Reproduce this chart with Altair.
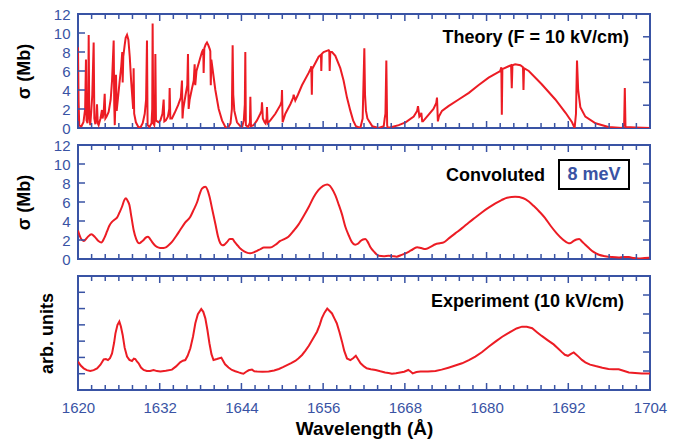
import altair as alt
import pandas as pd

RED = "#ec1c24"
BLUE = "#3953a4"
FONT = "Liberation Sans"

# ---------------- data ----------------
theory_wl = [1620.00, 1620.08, 1620.18, 1620.45, 1620.80, 1621.05, 1621.17, 1621.25, 1621.40, 1621.50,
             1621.57, 1621.65, 1621.80, 1621.95, 1622.10, 1622.30, 1622.40, 1622.55, 1622.70, 1622.79,
             1622.90, 1623.03, 1623.30, 1623.52, 1623.60, 1623.77, 1623.92, 1624.02, 1624.20, 1624.50,
             1624.80, 1625.00, 1625.24, 1625.32, 1625.40, 1625.50, 1625.58, 1625.68, 1625.85, 1626.10,
             1626.35, 1626.50, 1626.56, 1626.65, 1626.85, 1627.00, 1627.20, 1627.40, 1627.60, 1627.80,
             1628.00, 1628.10, 1628.17, 1628.25, 1628.50, 1628.90, 1629.20, 1629.50, 1629.80, 1630.00,
             1630.13, 1630.22, 1630.50, 1630.80, 1630.90, 1630.96, 1631.05, 1631.20, 1631.30, 1631.36,
             1631.45, 1631.80, 1632.10, 1632.40, 1632.58, 1632.68, 1632.90, 1633.20, 1633.40, 1633.46,
             1633.56, 1633.80, 1634.20, 1634.70, 1635.10, 1635.27, 1635.35, 1635.45, 1635.80, 1636.05,
             1636.15, 1636.25, 1636.40, 1636.75, 1637.00, 1637.13, 1637.22, 1637.40, 1637.80, 1638.20,
             1638.40, 1638.45, 1638.55, 1638.75, 1638.94, 1639.15, 1639.35, 1639.43, 1639.50, 1639.58,
             1639.80, 1640.17, 1640.66, 1641.15, 1641.64, 1642.00, 1642.40, 1642.60, 1642.71, 1642.80,
             1642.96, 1643.35, 1643.84, 1644.10, 1644.35, 1644.50, 1644.57, 1644.65, 1645.00, 1645.25,
             1645.31, 1645.40, 1645.80, 1646.28, 1646.77, 1646.95, 1647.02, 1647.15, 1647.40, 1647.51,
             1647.70, 1647.75, 1647.85, 1648.24, 1648.98, 1649.71, 1649.90, 1649.96, 1650.05, 1650.45,
             1651.18, 1651.60, 1651.67, 1651.91, 1652.30, 1652.89, 1653.87, 1654.20, 1654.26, 1654.34,
             1654.40, 1654.61, 1655.34, 1655.68, 1655.73, 1655.80, 1656.07, 1656.81, 1656.90, 1656.96,
             1657.05, 1657.30, 1657.79, 1658.52, 1659.00, 1659.50, 1660.00, 1660.40, 1660.80, 1661.46,
             1661.80, 1662.05, 1662.15, 1662.29, 1662.50, 1663.20, 1664.15, 1664.90, 1665.04, 1665.15,
             1665.28, 1665.40, 1665.48, 1666.10, 1667.10, 1668.10, 1669.30, 1669.80, 1669.93, 1670.13,
             1670.35, 1670.42, 1670.55, 1670.66, 1671.25, 1672.20, 1672.60, 1672.72, 1672.85, 1673.00,
             1673.45, 1674.40, 1675.90, 1677.40, 1678.80, 1680.30, 1682.00, 1682.17, 1682.24, 1682.32,
             1683.24, 1683.60, 1683.70, 1683.80, 1684.20, 1684.96, 1685.35, 1685.42, 1685.50, 1686.20,
             1688.10, 1690.10, 1691.60, 1692.55, 1692.93, 1693.13, 1693.28, 1693.45, 1693.77, 1694.50,
             1696.00, 1697.90, 1699.90, 1700.20, 1700.30, 1700.40, 1701.85, 1704.00]
theory_sigma = [8.5, 3.0, 0.3, 0.1, 0.6, 2.0, 7.2, 0.8, 0.5, 2.5,
                9.8, 1.5, 0.3, 1.8, 3.5, 9.0, 1.0, 0.4, 1.2, 2.5,
                0.5, 0.3, 1.0, 1.9, 1.0, 1.6, 3.6, 1.0, 1.2, 1.7,
                3.0, 5.0, 9.2, 2.5, 0.3, 3.0, 5.6, 1.8, 3.0, 4.8,
                6.5, 8.0, 4.8, 7.5, 8.7, 9.5, 9.8, 9.3, 7.5, 5.0,
                3.0, 2.0, 6.3, 1.5, 0.6, 0.05, 0.1, 0.5, 1.5, 3.0,
                9.2, 0.3, 0.1, 0.5, 2.0, 11.0, 0.5, 0.3, 1.0, 7.8,
                0.8, 0.6, 0.8, 1.5, 3.0, 0.7, 0.8, 1.2, 2.0, 4.2,
                1.0, 1.0, 1.6, 2.4, 3.2, 5.0, 1.0, 2.0, 3.5, 4.5,
                7.8, 2.0, 3.0, 4.2, 5.0, 6.7, 4.5, 6.0, 7.0, 8.0,
                8.3, 5.8, 8.4, 8.8, 9.0, 8.7, 8.3, 8.1, 4.5, 7.2,
                6.0, 4.0, 2.0, 0.8, 0.1, 0.0, 0.5, 2.0, 8.7, 3.5,
                1.8, 0.6, 0.2, 0.1, 0.8, 2.5, 8.0, 0.3, 0.1, 0.6,
                3.3, 0.2, 0.3, 0.8, 1.5, 1.8, 2.7, 1.0, 0.6, 0.5,
                1.0, 2.2, 0.5, 0.8, 1.5, 2.4, 2.8, 4.0, 0.6, 1.5,
                2.5, 3.2, 3.5, 2.9, 3.5, 4.5, 5.8, 6.3, 6.5, 3.5,
                6.2, 6.5, 7.5, 7.7, 6.0, 7.8, 8.0, 8.2, 8.1, 6.0,
                8.0, 8.0, 7.6, 6.3, 5.0, 3.2, 1.8, 0.8, 0.2, 0.0,
                1.0, 8.4, 3.5, 1.8, 1.0, 0.2, 0.0, 0.2, 1.0, 1.5,
                7.1, 0.3, 0.0, 0.1, 0.3, 0.6, 1.2, 1.8, 2.3, 1.2,
                1.4, 1.6, 0.7, 0.7, 1.2, 2.0, 2.6, 3.2, 0.7, 1.2,
                1.8, 2.3, 3.0, 3.7, 4.5, 5.3, 6.0, 6.4, 1.4, 6.2,
                6.5, 6.6, 4.2, 6.6, 6.7, 6.6, 6.4, 4.0, 6.3, 6.0,
                4.6, 3.0, 1.6, 0.6, 0.0, 1.5, 7.1, 4.0, 2.2, 1.2,
                0.5, 0.1, 0.0, 0.3, 4.2, 0.1, 0.05, 0.0]

conv_wl = [1620.00, 1620.40, 1620.83, 1621.40, 1621.96, 1622.50, 1623.00, 1623.43, 1623.85, 1624.26,
           1624.60, 1624.99, 1625.40, 1625.73, 1626.10, 1626.46, 1626.80, 1627.05, 1627.30, 1627.54,
           1627.85, 1628.17, 1628.55, 1629.00, 1629.30, 1629.64, 1629.95, 1630.28, 1630.60, 1630.87,
           1631.35, 1631.85, 1632.30, 1632.80, 1633.30, 1633.80, 1634.40, 1635.00, 1635.70, 1636.50,
           1637.00, 1637.50, 1637.85, 1638.20, 1638.70, 1639.00, 1639.30, 1639.75, 1640.20, 1640.55,
           1640.90, 1641.20, 1641.50, 1641.90, 1642.30, 1642.70, 1643.00, 1643.35, 1643.70, 1644.10,
           1644.70, 1645.30, 1645.80, 1646.30, 1646.80, 1647.30, 1648.20, 1649.00, 1649.70, 1650.30,
           1650.90, 1651.70, 1652.40, 1653.20, 1653.90, 1654.60, 1655.30, 1656.00, 1656.60, 1657.00,
           1657.30, 1657.80, 1658.30, 1658.77, 1659.26, 1659.75, 1660.20, 1660.70, 1661.10, 1661.50,
           1661.85, 1662.20, 1662.55, 1662.90, 1663.50, 1664.15, 1664.90, 1665.60, 1666.20, 1666.80,
           1667.40, 1668.10, 1668.90, 1669.80, 1670.40, 1671.00, 1671.70, 1672.50, 1673.10, 1673.70,
           1674.50, 1675.40, 1676.40, 1677.40, 1678.40, 1679.30, 1680.30, 1681.30, 1682.20, 1683.00,
           1684.20, 1685.40, 1686.20, 1686.90, 1687.80, 1688.60, 1689.40, 1690.30, 1691.20, 1692.05,
           1692.40, 1692.80, 1693.20, 1693.60, 1694.00, 1694.50, 1695.10, 1695.70, 1696.50, 1697.40,
           1698.40, 1699.40, 1700.10, 1700.90, 1701.60, 1702.30, 1703.20, 1704.00]
conv_sigma = [3.0, 2.2, 1.9, 2.3, 2.6, 2.3, 1.9, 1.75, 2.2, 2.9,
              3.5, 3.9, 4.15, 4.35, 4.9, 5.5, 6.2, 6.4, 6.1, 5.7,
              4.4, 3.05, 2.1, 1.65, 1.8, 2.0, 2.25, 2.35, 2.1, 1.8,
              1.4, 1.2, 1.15, 1.2, 1.45, 1.8, 2.4, 3.05, 3.8, 4.45,
              5.2, 6.0, 6.8, 7.4, 7.6, 7.3, 6.6, 5.1, 3.6, 2.4,
              1.65, 1.45, 1.5, 1.8, 2.1, 2.1, 1.8, 1.5, 1.2, 0.95,
              0.7, 0.6, 0.7, 0.85, 1.05, 1.2, 1.2, 1.5, 1.9, 2.1,
              2.35, 3.0, 3.65, 4.6, 5.5, 6.5, 7.25, 7.7, 7.85, 7.7,
              7.4, 6.7, 5.7, 4.7, 3.4, 2.5, 1.8, 1.5, 1.6, 1.9,
              2.05, 2.1, 1.8, 1.3, 0.75, 0.35, 0.3, 0.35, 0.3, 0.25,
              0.4, 0.6, 0.9, 1.25, 1.15, 1.05, 1.25, 1.55, 1.65, 1.75,
              2.2, 2.7, 3.25, 3.85, 4.4, 4.9, 5.4, 5.85, 6.2, 6.45,
              6.55, 6.4, 6.05, 5.6, 4.95, 4.3, 3.5, 2.7, 2.05, 1.65,
              1.7, 1.9, 2.05, 2.1, 1.85, 1.5, 1.1, 0.75, 0.45, 0.3,
              0.2, 0.15, 0.2, 0.2, 0.1, 0.05, 0.1, 0.15]

exp_wl = [1620.00, 1620.40, 1620.83, 1621.30, 1621.80, 1622.30, 1622.80, 1623.30, 1623.77, 1624.10,
          1624.40, 1624.70, 1625.00, 1625.30, 1625.50, 1625.80, 1626.07, 1626.30, 1626.56, 1626.85,
          1627.20, 1627.55, 1627.93, 1628.20, 1628.42, 1628.65, 1628.90, 1629.25, 1629.64, 1630.10,
          1630.60, 1631.10, 1631.60, 1632.10, 1632.90, 1633.80, 1634.40, 1635.00, 1635.40, 1635.76,
          1636.10, 1636.50, 1636.90, 1637.23, 1637.60, 1638.10, 1638.40, 1638.70, 1639.00, 1639.30,
          1639.60, 1639.90, 1640.40, 1641.05, 1641.30, 1641.60, 1642.10, 1642.60, 1643.10, 1643.60,
          1644.00, 1644.30, 1644.70, 1645.06, 1645.55, 1645.90, 1646.30, 1647.10, 1648.00, 1648.80,
          1649.50, 1650.10, 1650.70, 1651.30, 1651.90, 1652.40, 1652.90, 1653.40, 1653.90, 1654.50,
          1655.10, 1655.50, 1655.80, 1656.20, 1656.60, 1656.95, 1657.30, 1657.65, 1658.00, 1658.40,
          1658.77, 1659.10, 1659.50, 1660.00, 1660.40, 1660.80, 1661.10, 1661.50, 1662.00, 1662.40,
          1663.00, 1663.70, 1664.40, 1665.10, 1665.60, 1666.10, 1666.70, 1667.30, 1667.90, 1668.50,
          1668.80, 1669.15, 1669.70, 1670.30, 1671.40, 1672.50, 1673.40, 1674.40, 1675.40, 1676.40,
          1677.40, 1678.35, 1679.30, 1680.30, 1681.30, 1682.30, 1683.00, 1683.70, 1684.40, 1685.20,
          1685.90, 1686.70, 1687.40, 1688.10, 1689.00, 1689.85, 1690.50, 1691.10, 1691.50, 1691.95,
          1692.40, 1692.80, 1693.10, 1693.50, 1694.00, 1694.50, 1695.20, 1696.00, 1697.00, 1697.90,
          1698.60, 1699.40, 1700.10, 1700.90, 1701.80, 1702.80, 1704.00]
exp_signal = [1.74, 1.50, 1.33, 1.22, 1.17, 1.22, 1.33, 1.55, 1.88, 1.90,
              1.84, 1.95, 2.25, 2.90, 3.48, 4.00, 4.20, 3.90, 3.38, 2.60,
              2.05, 1.85, 1.78, 1.92, 1.90, 1.75, 1.64, 1.38, 1.23, 1.17,
              1.17, 1.23, 1.16, 1.13, 1.18, 1.25, 1.45, 1.70, 1.80, 1.84,
              2.10, 2.56, 3.30, 4.10, 4.65, 4.97, 4.80, 4.40, 3.70, 2.87,
              2.20, 1.84, 1.90, 1.99, 1.80, 1.58, 1.38, 1.23, 1.15, 1.08,
              1.03, 1.00, 1.12, 1.21, 1.25, 1.15, 1.13, 1.12, 1.13, 1.20,
              1.29, 1.40, 1.53, 1.65, 1.78, 1.95, 2.15, 2.42, 2.72, 3.15,
              3.58, 4.00, 4.40, 4.75, 5.00, 4.85, 4.70, 4.40, 4.10, 3.55,
              2.97, 2.40, 1.94, 1.84, 1.95, 2.10, 1.90, 1.64, 1.45, 1.33,
              1.28, 1.23, 1.15, 1.08, 1.04, 1.00, 1.03, 1.08, 1.12, 1.23,
              1.15, 1.02, 1.10, 1.13, 1.13, 1.17, 1.25, 1.37, 1.50, 1.64,
              1.83, 2.05, 2.32, 2.66, 2.97, 3.27, 3.45, 3.62, 3.78, 3.89,
              3.88, 3.79, 3.55, 3.32, 3.05, 2.80, 2.55, 2.31, 2.16, 2.10,
              2.22, 2.31, 2.20, 2.05, 1.85, 1.70, 1.56, 1.47, 1.37, 1.29,
              1.28, 1.27, 1.18, 1.08, 1.05, 1.02, 1.02]

x_labels = [1620, 1632, 1644, 1656, 1668, 1680, 1692, 1704]
x_minor = [1622, 1624, 1626, 1628, 1630, 1634, 1636, 1638, 1640, 1642, 1646, 1648, 1650, 1652, 1654,
           1658, 1660, 1662, 1664, 1666, 1670, 1672, 1674, 1676, 1678, 1682, 1684, 1686, 1688, 1690,
           1694, 1696, 1698, 1700, 1702]
sigma_labels = [0, 2, 4, 6, 8, 10, 12]
theory_right_ticks = [2.4, 4.8, 7.2, 9.6]
conv_right_ticks = [2, 4, 6, 8, 10]
exp_left_ticks = [1, 2, 3, 4, 5, 6]
exp_right_ticks = [1.1667, 2.3333, 3.5, 4.6667, 5.8333]

W = 572
H = 114

XS = alt.Scale(domain=[1620, 1704], nice=False, zero=False)

NO_X = alt.Axis(labels=False, ticks=False, domain=False, grid=False, title=None)
WAVE_X = alt.Axis(
    values=x_labels, format="d", ticks=False, domain=False, grid=False,
    labelColor=BLUE, labelFont=FONT, labelFontSize=15, labelPadding=10,
    labelFlush=False, labelOverlap=False,
    title="Wavelength (Å)", titleFont=FONT, titleFontSize=19, titleFontWeight="bold",
    titleColor="black", titlePadding=4)
SIGMA_Y = alt.Axis(
    values=sigma_labels, ticks=False, domain=False, grid=False,
    labelColor=BLUE, labelFont=FONT, labelFontSize=15, labelPadding=8,
    title="σ (Mb)", titleFont=FONT, titleFontSize=18, titleFontWeight="bold",
    titleColor="black", titlePadding=20)
ARB_Y = alt.Axis(
    labels=False, ticks=False, domain=False, grid=False,
    title="arb. units", titleFont=FONT, titleFontSize=18, titleFontWeight="bold",
    titleColor="black", titlePadding=22)


def rules_x(values, y0, y1, xaxis):
    return alt.Chart(pd.DataFrame({"wl": values})).mark_rule(color=BLUE, strokeWidth=1.5).encode(
        x=alt.X("wl:Q", scale=XS, axis=xaxis),
        y=alt.value(y0), y2=alt.value(y1))


def rules_y(values, x0, x1, ys, yaxis):
    return alt.Chart(pd.DataFrame({"v": values})).mark_rule(color=BLUE, strokeWidth=1.5).encode(
        y=alt.Y("v:Q", scale=ys, axis=yaxis),
        x=alt.value(x0), x2=alt.value(x1))


def frame_ticks(ys, left, right, xaxis, yaxis):
    return [
        rules_x(x_minor, H, H - 5, xaxis),
        rules_x(x_labels, H, H - 7, xaxis),
        rules_x(x_minor, 0, 5, xaxis),
        rules_x(x_labels, 0, 7, xaxis),
        rules_y(left, 0, 7, ys, yaxis),
        rules_y(right, W, W - 7, ys, yaxis),
    ]


def label(text, x, y, color="black", align="right"):
    return alt.Chart(pd.DataFrame({"a": [0]})).mark_text(
        text=text, align=align, baseline="middle", font=FONT, fontSize=18,
        fontWeight="bold", color=color).encode(x=alt.value(x), y=alt.value(y))


def curve(wl, vals, ys, xaxis, yaxis, interp="linear"):
    return alt.Chart(pd.DataFrame({"wl": wl, "v": vals})).mark_line(
        color=RED, strokeWidth=2, interpolate=interp, clip=True).encode(
        x=alt.X("wl:Q", scale=XS, axis=xaxis),
        y=alt.Y("v:Q", scale=ys, axis=yaxis))


# ---------- panel 1: theory ----------
ys1 = alt.Scale(domain=[0, 12], nice=False, zero=False)
p1 = alt.layer(
    curve(theory_wl, theory_sigma, ys1, NO_X, SIGMA_Y),
    *frame_ticks(ys1, sigma_labels, theory_right_ticks, NO_X, SIGMA_Y),
    label("Theory (F = 10 kV/cm)", 551, 24)).properties(width=W, height=H)

# ---------- panel 2: convoluted ----------
ys2 = alt.Scale(domain=[0, 12], nice=False, zero=False)
box = alt.Chart(pd.DataFrame({"a": [0]})).mark_rect(
    fill="white", stroke="black", strokeWidth=2).encode(
    x=alt.value(481), x2=alt.value(551), y=alt.value(15), y2=alt.value(44))
p2 = alt.layer(
    curve(conv_wl, conv_sigma, ys2, NO_X, SIGMA_Y, "monotone"),
    *frame_ticks(ys2, sigma_labels, conv_right_ticks, NO_X, SIGMA_Y),
    label("Convoluted", 467, 31), box,
    label("8 meV", 516, 30, color=BLUE, align="center")).properties(width=W, height=H)

# ---------- panel 3: experiment ----------
ys3 = alt.Scale(domain=[0, 7], nice=False, zero=False)
p3 = alt.layer(
    curve(exp_wl, exp_signal, ys3, WAVE_X, ARB_Y),
    *frame_ticks(ys3, exp_left_ticks, exp_right_ticks, WAVE_X, ARB_Y),
    label("Experiment (10 kV/cm)", 546, 26)).properties(width=W, height=H)

chart = alt.vconcat(p1, p2, p3, spacing=17, bounds="flush").properties(
    padding={"left": 14, "top": 6, "right": 5, "bottom": 2}
).configure_view(stroke=BLUE, strokeWidth=2)

chart.save("out.html", embed_options={"renderer": "svg", "actions": False})
